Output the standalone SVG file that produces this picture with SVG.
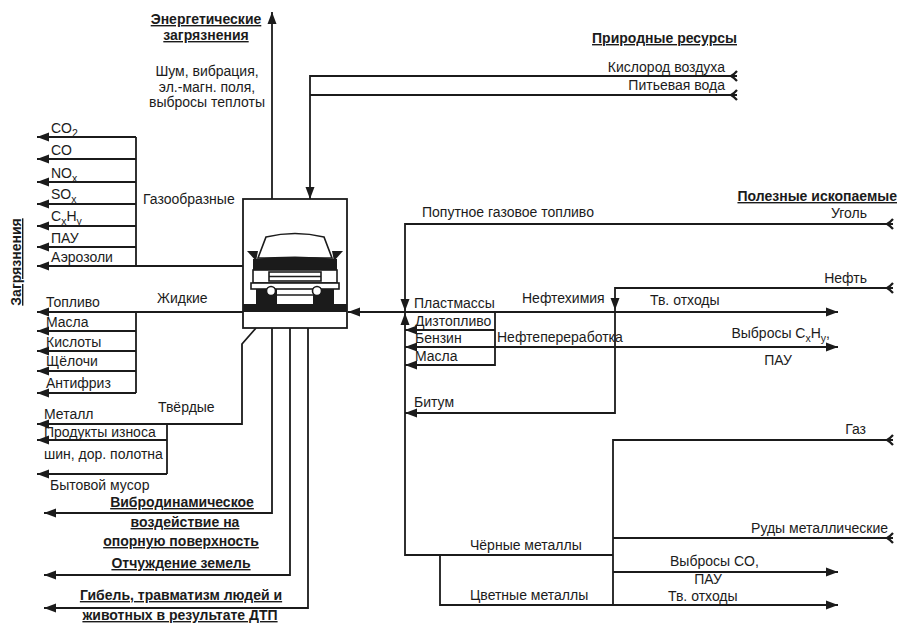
<svg xmlns="http://www.w3.org/2000/svg" width="901" height="625" viewBox="0 0 901 625">
<style>
.ln{fill:none;stroke:#1b1b1b;stroke-width:1.8}
.ar{marker-end:url(#arr)}
.tl{marker-start:url(#tail)}
text{font-family:"Liberation Sans",Arial,sans-serif;font-size:14px;fill:#1b1b1b}
.b{font-weight:bold;text-decoration:underline}
.m{text-anchor:middle}
.e{text-anchor:end}
.s{font-size:10.5px}
.k{fill:#1b1b1b}
.w{fill:#fff;stroke:#1b1b1b;stroke-width:1.6}
</style>
<defs>
<marker id="arr" markerUnits="userSpaceOnUse" markerWidth="13" markerHeight="10" refX="12" refY="5" orient="auto"><path d="M0,0.5 L12,5 L0,9.5 Z" fill="#1b1b1b"/></marker>
<marker id="tail" markerUnits="userSpaceOnUse" markerWidth="10" markerHeight="12" refX="1" refY="6" orient="auto"><path d="M1,1 Q4,4.5 7,6 Q4,7.5 1,11" fill="none" stroke="#1b1b1b" stroke-width="2.2"/></marker>
</defs>
<rect width="901" height="625" fill="#fff"/>
<g id="connectors">
<path class="ln ar" d="M243,266 H37"/>
<path class="ln" d="M136,266 V137"/>
<path class="ln ar" d="M136,137 H37"/>
<path class="ln ar" d="M136,159 H37"/>
<path class="ln ar" d="M136,182 H37"/>
<path class="ln ar" d="M136,204 H37"/>
<path class="ln ar" d="M136,226 H37"/>
<path class="ln ar" d="M136,247 H37"/>
<path class="ln ar" d="M243,312 H37"/>
<path class="ln" d="M136,312 V393"/>
<path class="ln ar" d="M136,331 H37"/>
<path class="ln ar" d="M136,351 H37"/>
<path class="ln ar" d="M136,371 H37"/>
<path class="ln ar" d="M136,393 H37"/>
<path class="ln ar" d="M256,328 L242,344 V424 H37"/>
<path class="ln" d="M167,424 V474"/>
<path class="ln ar" d="M167,440 H37"/>
<path class="ln ar" d="M167,474 H37"/>
<path class="ln ar" d="M272,328 V513 H44"/>
<path class="ln ar" d="M290,328 V575 H44"/>
<path class="ln ar" d="M308,328 V608 H44"/>
<path class="ln ar" d="M272,199 V12"/>
<path class="ln ar tl" d="M737,76 H310 V199"/>
<path class="ln tl" d="M737,95 H310"/>
<path class="ln ar tl" d="M893,224 H405 V311"/>
<path class="ln ar" d="M613,555 H405 V313"/>
<path class="ln" d="M613,605 H440 V555"/>
<path class="ln ar" d="M405,312 H348"/>
<path class="ln ar" d="M405,312 H838"/>
<path class="ln ar tl" d="M893,288 H615 V310"/>
<path class="ln ar" d="M615,310 V413 H405"/>
<path class="ln ar" d="M495,312 V365 H405"/>
<path class="ln ar" d="M495,330 H405"/>
<path class="ln ar" d="M495,347 H405"/>
<path class="ln ar" d="M495,347 H838"/>
<path class="ln tl" d="M893,440 H613 V605"/>
<path class="ln tl" d="M893,538 H613"/>
<path class="ln ar" d="M613,572 H838"/>
<path class="ln ar" d="M613,605 H838"/>
</g>
<g id="car">
<rect x="243" y="199" width="104" height="129" fill="#fff" stroke="#1b1b1b" stroke-width="1.8"/>
<path class="w" d="M258,258 L266,237 Q295,230 324,237 L332,258 Z"/>
<polygon class="k" points="247,251 258,251 256,261"/>
<polygon class="k" points="343,251 332,251 334,261"/>
<path class="k" d="M253,259 Q295,254 337,259 V270 H253 Z"/>
<rect class="w" x="253" y="270" width="84" height="13"/>
<rect class="w" x="269" y="272" width="52" height="9"/>
<line x1="269" y1="276.5" x2="321" y2="276.5" stroke="#1b1b1b" stroke-width="1.4"/>
<rect class="k" x="256" y="289" width="21" height="16"/>
<rect class="k" x="313" y="289" width="21" height="16"/>
<line x1="277" y1="295" x2="313" y2="295" stroke="#1b1b1b" stroke-width="1.6"/>
<rect class="w" x="251" y="283" width="88" height="6"/>
<circle class="w" cx="271" cy="291" r="4.5"/>
<circle class="w" cx="317" cy="291" r="4.5"/>
<rect class="k" x="243" y="304" width="104" height="8"/>
</g>
<g id="energy">
<text class="b m" x="206" y="24">Энергетические</text>
<text class="b m" x="206" y="40">загрязнения</text>
<text class="m" x="207" y="76">Шум, вибрация,</text>
<text class="m" x="207" y="92">эл.-магн. поля,</text>
<text class="m" x="207" y="107">выбросы теплоты</text>
</g>
<g id="pollution">
<text class="b m" transform="translate(21,262) rotate(-90)">Загрязнения</text>
</g>
<g id="gaseous">
<text x="143" y="204">Газообразные</text>
<text x="51" y="133">CO<tspan class="s" dy="4">2</tspan></text>
<text x="51" y="155">CO</text>
<text x="51" y="178">NO<tspan class="s" dy="4">x</tspan></text>
<text x="51" y="199">SO<tspan class="s" dy="4">x</tspan></text>
<text x="51" y="221">C<tspan class="s" dy="4">x</tspan><tspan dy="-4">H</tspan><tspan class="s" dy="4">y</tspan></text>
<text x="51" y="243">ПАУ</text>
<text x="51" y="262">Аэрозоли</text>
</g>
<g id="liquid">
<text x="157" y="303">Жидкие</text>
<text x="46" y="307">Топливо</text>
<text x="46" y="327">Масла</text>
<text x="46" y="347">Кислоты</text>
<text x="46" y="366">Щёлочи</text>
<text x="46" y="388">Антифриз</text>
</g>
<g id="solid">
<text x="158" y="412">Твёрдые</text>
<text x="44" y="419">Металл</text>
<text x="44" y="437">Продукты износа</text>
<text x="44" y="459">шин, дор. полотна</text>
<text x="50" y="490">Бытовой мусор</text>
</g>
<g id="impacts">
<text class="b m" x="182" y="507">Вибродинамическое</text>
<text class="b m" x="185" y="527">воздействие на</text>
<text class="b m" x="181" y="546">опорную поверхность</text>
<text class="b m" x="181" y="568">Отчуждение земель</text>
<text class="b m" x="181" y="600">Гибель, травматизм людей и</text>
<text class="b m" x="180" y="620">животных в результате ДТП</text>
</g>
<g id="resources">
<text class="b e" x="737" y="43">Природные ресурсы</text>
<text class="e" x="725" y="72">Кислород воздуха</text>
<text class="e" x="725" y="90">Питьевая вода</text>
</g>
<g id="minerals">
<text class="b e" x="897" y="201">Полезные ископаемые</text>
<text class="e" x="867" y="218">Уголь</text>
<text x="422" y="217">Попутное газовое топливо</text>
<text class="e" x="867" y="283">Нефть</text>
<text x="414" y="308">Пластмассы</text>
<text x="522" y="303">Нефтехимия</text>
<text x="650" y="305">Тв. отходы</text>
<text x="415" y="326">Дизтопливо</text>
<text x="415" y="343">Бензин</text>
<text x="415" y="361">Масла</text>
<text x="497" y="342">Нефтепереработка</text>
<text class="e" x="830" y="338">Выбросы C<tspan class="s" dy="4">x</tspan><tspan dy="-4">H</tspan><tspan class="s" dy="4">y</tspan><tspan dy="-4">,</tspan></text>
<text class="m" x="778" y="365">ПАУ</text>
<text x="414" y="407">Битум</text>
<text class="e" x="866" y="434">Газ</text>
<text class="e" x="888" y="533">Руды металлические</text>
<text x="470" y="550">Чёрные металлы</text>
<text x="670" y="566">Выбросы CO,</text>
<text class="m" x="708" y="584">ПАУ</text>
<text x="470" y="600">Цветные металлы</text>
<text x="668" y="601">Тв. отходы</text>
</g>
</svg>
